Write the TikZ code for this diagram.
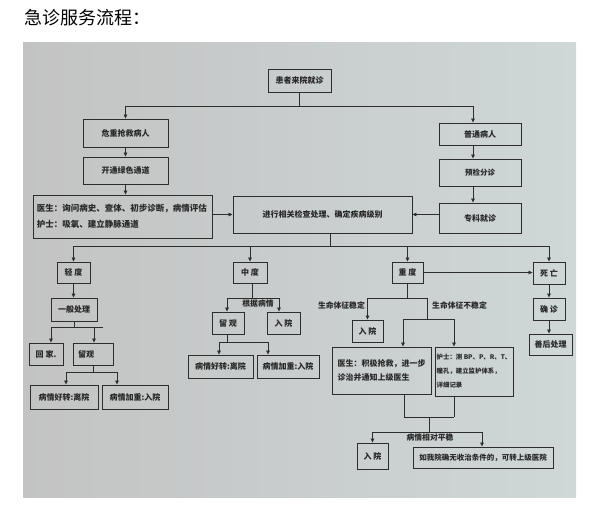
\documentclass[tikz,border=0pt]{standalone}
\usepackage{fontspec}
\newfontfamily\cjk{Noto Sans CJK SC}
\usetikzlibrary{arrows.meta,calc,positioning}
\definecolor{bgleft}{RGB}{195,195,195}
\definecolor{bgright}{RGB}{207,215,215}
\definecolor{linegray}{RGB}{45,45,45}
\definecolor{inkgray}{RGB}{40,40,40}

\begin{document}
\begin{tikzpicture}[x=1pt, y=-1pt,
  box/.style={draw=linegray, line width=0.9pt, inner sep=1pt, text=inkgray, font=\cjk\bfseries\fontsize{8}{10}\selectfont},
  link/.style={draw=linegray, line width=0.7pt},
  tip/.style={link, -{Triangle[length=4pt,width=3.5pt]}},
  tag/.style={text=inkgray, inner sep=0pt, font=\cjk\bfseries\fontsize{7.8}{9}\selectfont}]
  \useasboundingbox (0,0) rectangle (598,514);

  % Title
  \node[anchor=west, inner sep=0pt, font=\cjk\fontsize{18}{20}\selectfont] (title) at (24,18) {急诊服务流程：};

  % Photo background
  \shade[left color=bgleft, right color=bgright] (23,42) rectangle (576,497);

  % Arrival and triage
  \node[box, minimum width=63, minimum height=23] (come) at (299.5,80.5) {患者来院就诊};
  \node[box, minimum width=85, minimum height=28] (crit) at (125.5,133) {危重抢救病人};
  \node[box, minimum width=85, minimum height=27] (green) at (125.5,170.5) {开通绿色通道};
  \node[box, minimum width=179, minimum height=43, text width=171, align=left,
        font=\cjk\bfseries\fontsize{8.5}{16}\selectfont] (doc1) at (122.5,216.5)
        {医生：询问病史、查体、初步诊断，病情评估\\护士：吸氧、建立静脉通道};
  \node[box, minimum width=179, minimum height=37] (exam) at (322.5,214.5) {进行相关检查处理、确定疾病级别};
  \node[box, minimum width=82, minimum height=22] (norm) at (480,134) {普通病人};
  \node[box, minimum width=82, minimum height=27, font=\cjk\bfseries\fontsize{7.5}{9}\selectfont] (triage) at (480,172.5) {预检分诊};
  \node[box, minimum width=82, minimum height=30] (spec) at (480,218) {专科就诊};

  % Mild
  \node[box, minimum width=33, minimum height=21] (mild) at (73.5,272.5) {轻\ 度};
  \node[box, minimum width=46, minimum height=23] (gen) at (74,309.5) {一般处理};
  \node[box, minimum width=34, minimum height=22] (home) at (46,354) {回\ 家.};
  \node[box, minimum width=40, minimum height=22, text width=30] (obs1) at (93,354) {留观};
  \node[box, minimum width=68, minimum height=24] (better1) at (64,397) {病情好转:离院};
  \node[box, minimum width=66, minimum height=24] (worse1) at (135,397) {病情加重:入院};

  % Moderate
  \node[box, minimum width=34, minimum height=21] (mod) at (250,272.5) {中\ 度};
  \node[box, minimum width=32, minimum height=22] (obs2) at (228,323) {留\ 观};
  \node[box, minimum width=33, minimum height=22] (adm2) at (283.5,323) {入\ 院};
  \node[box, minimum width=65, minimum height=23] (better2) at (220.5,366.5) {病情好转:离院};
  \node[box, minimum width=62, minimum height=23] (worse2) at (288,366.5) {病情加重:入院};

  % Severe and death
  \node[box, minimum width=31, minimum height=21] (sev) at (407.5,272.5) {重\ 度};
  \node[box, minimum width=32, minimum height=22] (dead) at (549,273) {死\ 亡};
  \node[box, minimum width=32, minimum height=22] (diag) at (549,309) {确\ 诊};
  \node[box, minimum width=43, minimum height=21] (after) at (550.5,344.5) {善后处理};
  \node[box, minimum width=31, minimum height=22] (adm3) at (367.5,331) {入\ 院};
  \node[box, minimum width=99, minimum height=47, align=left,
        font=\cjk\bfseries\fontsize{8}{14}\selectfont] (doc2) at (381.5,370.5)
        {医生：积极抢救，进一步\\诊治并通知上级医生};
  \node[box, minimum width=78, minimum height=49, align=left,
        font=\cjk\bfseries\fontsize{6.4}{14}\selectfont] (nurse) at (474,371.5)
        {护士：测 BP、P、R、T、\\瞳孔，建立监护体系，\\详细记录};
  \node[box, minimum width=31, minimum height=26] (adm4) at (372.5,456) {入\ 院};
  \node[box, minimum width=140, minimum height=21, font=\cjk\bfseries\fontsize{7.5}{9}\selectfont] (transfer) at (483,457.5)
        {如我院确无收治条件的，可转上级医院};

  % Labels on the branches
  \node[tag, anchor=north] (bycase) at (258,299.5) {根据病情};
  \node[tag, anchor=east] (stable) at (365,305) {生命体征稳定};
  \node[tag, anchor=west] (unstable) at (432,305) {生命体征不稳定};
  \node[tag, anchor=north] (steady) at (430,434) {病情相对平稳};

  % Top connectors
  \draw[link] (come.south) -- ++(0,14) coordinate (split);
  \draw[tip] (split) -| (crit.north);
  \draw[tip] (split) -| ([xshift=-7pt]norm.north);
  \draw[tip] (crit) -- (green);
  \draw[tip] (green.south) -- (green.south |- doc1.north);
  \draw[tip] (doc1.east |- exam.west) -- (exam.west);
  \draw[tip] ([xshift=-7pt]norm.south) -- ([xshift=-7pt]triage.north);
  \draw[tip] ([xshift=-7pt]triage.south) -- ([xshift=-7pt]spec.north);
  \draw[tip] (spec.west |- exam.east) -- (exam.east);

  % Grading
  \draw[link] ([xshift=7.5pt]exam.south) -- ++(0,13) coordinate (grade);
  \draw[tip] (grade) -| (mild.north);
  \draw[tip] (grade) -| (mod.north);
  \draw[tip] (grade) -| (sev.north);
  \draw[tip] (grade) -| (dead.north);

  % Mild branch
  \draw[tip] (mild.south) -- (mild.south |- gen.north);
  \draw[link] (gen.south) -- ++(0,6) coordinate (split3);
  \draw[tip] (split3) -| ([xshift=5pt]home.north);
  \draw[tip] (split3) -| ([xshift=1pt]obs1.north);
  \draw[link] (split3) -- ++(29,0);
  \draw[link] (obs1.south) -- ++(0,7) coordinate (split4);
  \draw[tip] (split4) -| ([xshift=2pt]better1.north);
  \draw[tip] (split4) -| ([xshift=-18pt]worse1.north);

  % Moderate branch
  \draw[link] ([xshift=2pt]mod.south) -- ++(0,15) coordinate (split5);
  \draw[tip] (split5) -| ([xshift=-1pt]obs2.north);
  \draw[tip] (split5) -| ([xshift=-4.5pt]adm2.north);
  \draw[link] ([xshift=-1pt]obs2.south) -- ++(0,8) coordinate (split6);
  \draw[tip] (split6) -| ([xshift=-1.5pt]better2.north);
  \draw[tip] (split6) -| ([xshift=-20pt]worse2.north);

  % Severe branch
  \draw[tip] (sev.east) -- (sev.east -| dead.west);
  \draw[tip] (dead) -- (diag);
  \draw[tip] (diag.south) -- (diag.south |- after.north);
  \draw[link] (sev.south) -- ++(0,15) coordinate (split7);
  \draw[tip] (split7) -| (adm3.north);
  \draw[link] (split7) -- ++(19.5,0) -- ++(0,21) coordinate (split8);
  \draw[tip] (split8) -| ([xshift=21.5pt]doc2.north);
  \draw[tip] (split8) -| ([xshift=-20pt]nurse.north);

  % Merge after rescue
  \draw[link] ([xshift=22.5pt]doc2.south) -- ++(0,23) coordinate (m1);
  \draw[link] ([xshift=-20pt]nurse.south) -- ++(0,21) coordinate (m2);
  \draw[link] (m1) -- (m2);
  \draw[link] ($(m1)!0.5!(m2)$) -- ++(0,15) coordinate (split9);
  \draw[tip] (split9) -| (adm4.north);
  \draw[tip] (split9) -| ([xshift=-1pt]transfer.north);
\end{tikzpicture}
\end{document}
